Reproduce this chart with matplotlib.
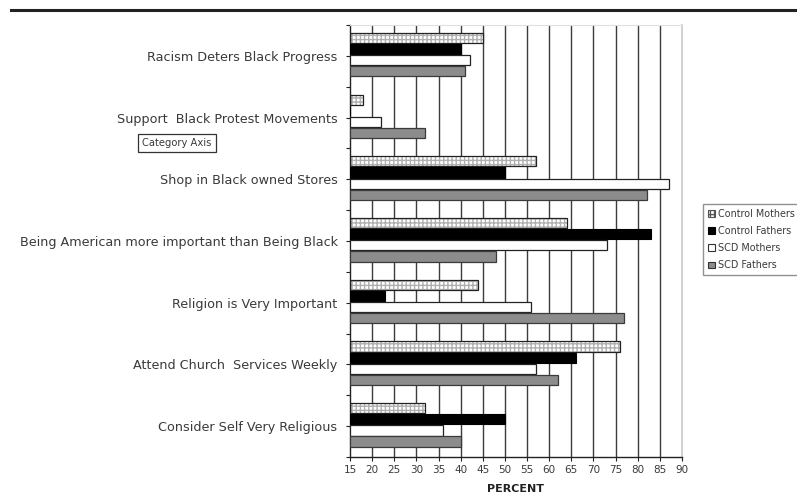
import matplotlib
matplotlib.use("Agg")
import matplotlib.pyplot as plt
from matplotlib.patches import Patch
import numpy as np

categories = [
    "Racism Deters Black Progress",
    "Support  Black Protest Movements",
    "Shop in Black owned Stores",
    "Being American more important than Being Black",
    "Religion is Very Important",
    "Attend Church  Services Weekly",
    "Consider Self Very Religious",
]
series_names = ["Control Mothers", "Control Fathers", "SCD Mothers", "SCD Fathers"]
control_mothers = [45, 18, 57, 64, 44, 76, 32]
control_fathers = [40, 0, 50, 83, 23, 66, 50]
scd_mothers = [42, 22, 87, 73, 56, 57, 36]
scd_fathers = [41, 32, 82, 48, 77, 62, 40]
x_ticks = list(range(15, 91, 5))

TXT = "#3a3a3a"
fig = plt.figure(figsize=(7.97, 5.01), dpi=100)
W, H = 797, 501
ax = fig.add_axes([350 / W, (H - 457) / H, (682 - 350) / W, (457 - 25) / H])

y = np.arange(len(categories))
bar_h = 0.165
step = 0.18
offsets = (np.arange(4) - 1.5) * step - 0.02
x0 = 15

# gridlines
for t in x_ticks[1:-1]:
    ax.axvline(t, color="#3c3c3c", lw=1.0, zorder=1)

# Control Mothers: light dotted pattern with black outline
ax.barh(y + offsets[0], np.array(control_mothers) - x0, left=x0, height=bar_h,
        color="white", edgecolor="#b0b0b0", hatch="++++", lw=0, zorder=2)
ax.barh(y + offsets[0], np.array(control_mothers) - x0, left=x0, height=bar_h,
        facecolor="none", edgecolor="#222222", lw=0.9, zorder=3)
ax.barh(y + offsets[1], np.clip(np.array(control_fathers) - x0, 0, None), left=x0,
        height=bar_h, color="black", edgecolor="black", lw=0.8, zorder=3)
ax.barh(y + offsets[2], np.array(scd_mothers) - x0, left=x0, height=bar_h,
        color="white", edgecolor="#222222", lw=0.9, zorder=3)
ax.barh(y + offsets[3], np.array(scd_fathers) - x0, left=x0, height=bar_h,
        color="#8c8c8c", edgecolor="#3a3a3a", lw=0.9, zorder=3)

ax.set_xlim(15, 90)
ax.set_ylim(len(categories) - 0.5, -0.5)
ax.set_xticks(x_ticks)
ax.set_xticklabels([str(t) for t in x_ticks], fontsize=7.5, color=TXT)
ax.set_yticks(y)
ax.set_yticklabels(categories, fontsize=9.2, color=TXT)
ax.set_yticks(np.arange(-0.5, len(categories)), minor=True)
ax.tick_params(axis="y", which="both", length=3, width=0.8, direction="out",
               color="#222222", pad=6)
ax.tick_params(axis="x", length=3, width=0.8, direction="out", color="#222222", pad=3)

for s in ["left", "bottom"]:
    ax.spines[s].set_color("#222222")
    ax.spines[s].set_linewidth(1.0)
ax.spines["right"].set_color("#c8c8c8")
ax.spines["right"].set_linewidth(1.2)
ax.spines["top"].set_color("#e0e0e0")
ax.spines["top"].set_linewidth(0.8)

ax.set_xlabel("PERCENT", fontsize=8, fontweight="bold", color="#222222", labelpad=6)

# rule across the top of the page
fig.add_artist(plt.Line2D([11 / W, 1.0], [(H - 10) / H] * 2, color="#222222", lw=2.2))

# "Category Axis" tip box
fig.text(177 / W, (H - 143) / H, "Category Axis", fontsize=7.2, color=TXT,
         ha="center", va="center",
         bbox=dict(boxstyle="square,pad=0.4", facecolor="white",
                   edgecolor="#333333", lw=0.9))

# legend
handles = [
    Patch(facecolor="white", edgecolor="#555555", hatch="++++", lw=0.8),
    Patch(facecolor="black", edgecolor="black", lw=0.8),
    Patch(facecolor="white", edgecolor="#333333", lw=0.8),
    Patch(facecolor="#8c8c8c", edgecolor="#333333", lw=0.8),
]
leg = fig.legend(handles, series_names, loc="upper left",
                 bbox_to_anchor=(703 / W, (H - 204) / H), fontsize=6.9,
                 frameon=True, fancybox=False, handlelength=0.7, handleheight=0.7,
                 handletextpad=0.35, borderpad=0.5, labelspacing=0.75,
                 borderaxespad=0)
leg.get_frame().set_edgecolor("#777777")
leg.get_frame().set_linewidth(1.0)
for t in leg.get_texts():
    t.set_color(TXT)

fig.savefig("out.png", dpi=100)
